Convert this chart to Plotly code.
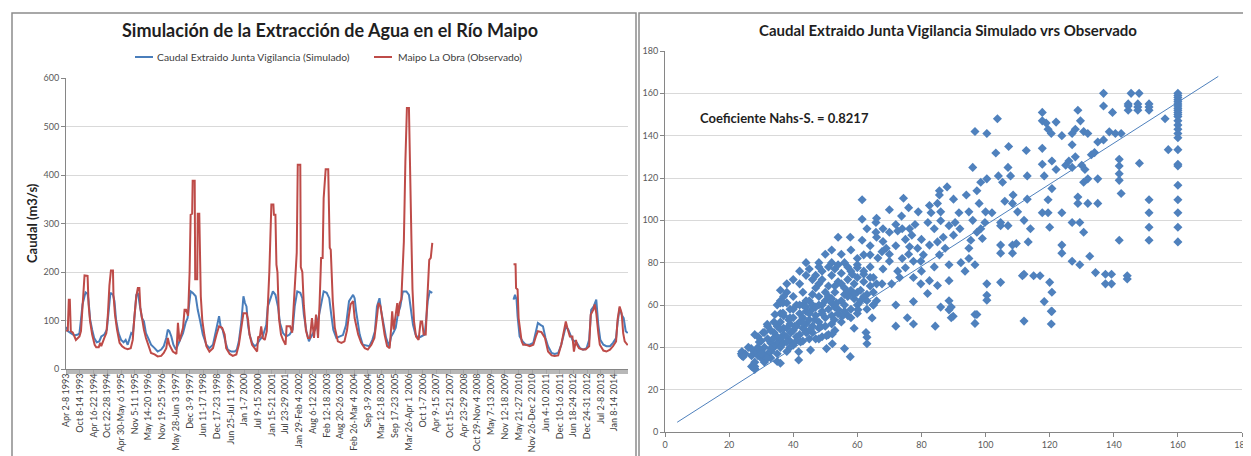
import plotly.graph_objects as go

W, H = 1251, 456

# ---------------- data: time series (weekly categories) ----------------
tick_labels = [
    "Apr 2-8 1993", "Oct 8-14 1993", "Apr 16-22 1994", "Oct 22-28 1994",
    "Apr 30-May 6 1995", "Nov 5-11 1995", "May 14-20 1996", "Nov 19-25 1996",
    "May 28-Jun 3 1997", "Dec 3-9 1997", "Jun 11-17 1998", "Dec 17-23 1998",
    "Jun 25-Jul 1 1999", "Jan 1-7 2000", "Jul 9-15 2000", "Jan 15-21 2001",
    "Jul 23-29 2001", "Jan 29-Feb 4 2002", "Aug 6-12 2002", "Feb 12-18 2003",
    "Aug 20-26 2003", "Feb 26-Mar 4 2004", "Sep 3-9 2004", "Mar 12-18 2005",
    "Sep 17-23 2005", "Mar 26-Apr 1 2006", "Oct 1-7 2006", "Apr 9-15 2007",
    "Oct 15-21 2007", "Apr 23-29 2008", "Oct 29-Nov 4 2008", "May 7-13 2009",
    "Nov 12-18 2009", "May 21-27 2010", "Nov 26-Dec 2 2010", "Jun 4-10 2011",
    "Dec 10-16 2011", "Jun 18-24 2012", "Dec 24-31 2012", "Jul 2-8 2013",
    "Jan 8-14 2014",
]
weeks_per_label = 27
n_weeks = 1107

sim_weeks = [0, 3, 9, 16, 23, 26, 29, 32, 38, 42, 44, 47, 51, 55, 60, 65, 69, 75, 80, 83,
             87, 92, 95, 98, 103, 108, 113, 117, 121, 128, 131, 134, 138, 141, 145, 149, 153,
             157, 163, 167, 174, 180, 187, 192, 197, 200, 203, 207, 211, 216, 220, 224, 230,
             235, 239, 245, 249, 255, 259, 264, 269, 276, 282, 289, 294, 301, 304, 308, 314,
             318, 325, 332, 336, 340, 345, 349, 352, 355, 358, 361, 366, 371, 375, 381, 387,
             394, 397, 402, 407, 412, 417, 421, 427, 433, 440, 446, 450, 455, 461, 465, 468,
             473, 478, 481, 486, 492, 498, 503, 507, 513, 518, 522, 526, 532, 538, 545, 551,
             557, 565, 568, 571, 578, 584, 591, 597, 603, 608, 612, 617, 620, 625, 630, 636,
             640, 644, 649, 653, 658, 663, 670, 675, 678, 683, 688, 693, 699, 706, 709, 712,
             716, 721,
             800,
             881, 884, 887, 889, 893, 899, 905, 913, 920, 925, 929, 934, 939, 944, 949, 956,
             962, 969, 975, 980, 984, 989, 993, 997, 1002, 1006, 1012, 1018, 1025, 1030, 1034,
             1039, 1044, 1048, 1052, 1058, 1064, 1071, 1077, 1083, 1086, 1090, 1094, 1098,
             1102, 1106]
sim_values = [87, 78, 74, 69, 71, 74, 102, 133, 158, 155, 140, 102, 81, 64, 55, 57, 67, 71, 81, 112,
              157, 153, 140, 102, 74, 60, 55, 60, 50, 74, 71, 102, 153, 157, 126, 105, 98,
              74, 60, 50, 43, 36, 40, 47, 64, 81, 78, 67, 50, 40, 50, 60, 74,
              95, 105, 160, 157, 150, 122, 98, 71, 50, 43, 50, 74, 109, 88, 81, 54,
              40, 36, 36, 40, 57, 98, 150, 136, 129, 91, 71, 54, 47, 50, 60, 67,
              91, 129, 146, 160, 153, 129, 95, 74, 67, 71, 81, 129, 160, 157, 146, 112,
              78, 57, 64, 74, 85, 112, 136, 160, 157, 146, 112, 81, 64, 67, 70, 90,
              140, 153, 146, 119, 71, 50, 48, 47, 60, 78, 129, 146, 122, 91, 64, 47,
              67, 74, 85, 112, 129, 160, 160, 153, 133, 91, 71, 64, 67, 71, 102, 140,
              160, 157,
              None,
              143, 153, 143, 109, 67, 57, 50, 50, 54, 81, 95, 91, 88, 64, 47, 33,
              31, 33, 50, 71, 88, 81, 71, 60, 57, 54, 43, 40, 43, 60, 122,
              129, 143, 91, 60, 50, 47, 47, 54, 64, 95, 126, 112, 105,
              78, 74]

obs_weeks = [0, 3, 5, 7, 9, 13, 19, 23, 26, 29, 32, 36, 42, 44, 47, 51, 56, 59, 64, 67, 69, 72,
             75, 79, 82, 85, 88, 92, 93, 96, 100, 105, 110, 115, 121, 127, 131, 134, 138, 141,
             144, 146, 149, 153, 157, 163, 167, 174, 180, 187, 192, 197, 200, 203, 210, 217,
             220, 223, 226, 230, 233, 236, 240, 243, 245, 248, 249, 253, 254, 258, 259, 262,
             265, 268, 272, 276, 282, 289, 296, 301, 307, 312, 315, 322, 328, 335, 340, 345,
             349, 355, 358, 361, 366, 371, 376, 378, 381, 384, 387, 391, 395, 397, 400, 404,
             408, 409, 412, 414, 416, 419, 423, 427, 432, 434, 441, 445, 448, 451, 454, 456,
             461, 462, 465, 468, 472, 476, 480, 484, 488, 492, 496, 499, 502, 505, 507, 511,
             516, 519, 521, 525, 529, 535, 542, 548, 553, 557, 560, 565, 568, 575, 581, 588,
             594, 601, 607, 611, 615, 619, 623, 627, 632, 637, 640, 642, 645, 649, 652, 654,
             657, 660, 663, 665, 668, 671, 675, 677, 680, 682, 685, 689, 694, 698, 701, 704,
             708, 711, 715, 718, 721,
             800,
             881, 885, 886, 889, 891, 893, 897, 900, 906, 913, 920, 925, 929, 936, 943, 949,
             956, 962, 969, 975, 980, 984, 987, 992, 997, 1000, 1004, 1006, 1010, 1017, 1023,
             1030, 1033, 1038, 1041, 1044, 1048, 1051, 1058, 1064, 1071, 1077, 1083, 1086,
             1090, 1094, 1097, 1100, 1106]
obs_values = [78, 80, 143, 143, 78, 75, 60, 64, 67, 78, 140, 193, 192, 133, 98, 71, 50, 45, 45, 54, 47, 54,
              64, 74, 112, 172, 203, 203, 153, 112, 81, 54, 47, 43, 41, 43, 60, 105, 150, 167,
              167, 126, 105, 81, 64, 43, 33, 30, 26, 27, 33, 43, 64, 50, 36, 31,
              95, 57, 71, 85, 122, 122, 110, 200, 318, 320, 388, 388, 185, 185, 320, 320,
              150, 100, 70, 47, 36, 43, 71, 88, 85, 71, 43, 31, 27, 30, 50, 85,
              115, 115, 102, 71, 50, 43, 36, 67, 64, 88, 64, 60, 78, 129, 200, 339,
              339, 318, 318, 215, 200, 105, 71, 60, 50, 88, 88, 75, 130, 180, 240, 421,
              421, 210, 200, 130, 80, 64, 64, 105, 64, 112, 64, 136, 229, 229, 352, 412,
              412, 250, 246, 140, 85, 57, 54, 57, 80, 112, 133, 140, 105, 71, 54, 43,
              40, 50, 64, 98, 136, 129, 100, 71, 47, 43, 85, 119, 81, 112, 136, 109,
              136, 143, 208, 263, 428, 538, 538, 394, 263, 164, 98, 67, 60, 98, 98, 71,
              71, 140, 225, 229, 260,
              None,
              216, 216, 167, 164, 105, 85, 57, 50, 50, 47, 50, 67, 78, 76, 64, 36,
              28, 27, 28, 50, 74, 98, 85, 67, 67, 36, 60, 50, 43, 40, 40,
              47, 112, 122, 133, 115, 74, 50, 38, 36, 40, 47, 57, 102,
              129, 115, 74, 57, 49]

# ---------------- data: scatter (observado, simulado) ----------------
scatter_points = [
    # upper band
    (96.7, 142), (100.4, 141), (103.7, 148), (117.7, 151), (117.7, 147), (118.9, 146), (119.5, 143),
    (120.5, 141), (122, 146.4), (123.8, 140), (127, 141), (128, 143), (128.8, 152), (129.6, 147),
    (130.6, 142), (131.9, 141), (136.8, 160), (136.8, 154), (139.6, 151), (140.5, 141), (142.3, 141),
    (145.4, 160), (147.9, 160), (144.5, 152), (144.5, 154), (144.5, 155), (147.5, 152), (147.5, 153.5),
    (147.5, 155), (151, 152), (151, 153.5), (151, 155), (156, 148),
    (160, 139), (160, 141), (160, 143), (160, 145), (160, 147), (160, 149), (160, 150), (160, 151),
    (160, 152), (160, 153), (160, 154), (160, 155), (160, 156), (160, 157), (160, 158), (160, 159),
    (160, 160), (157, 133.4), (160, 133.4), (160, 125.7), (160, 126.5), (160, 116.6), (160, 109.7),
    (160, 103.6), (160, 96.7), (160, 89.8),
    # middle right
    (96, 125), (103.2, 131.8), (107.2, 134.9), (112.7, 133), (107, 125), (104, 121), (107.8, 121),
    (105.3, 118), (98.5, 118), (97.3, 114), (100.4, 119.6), (113, 121), (113, 110), (108.6, 112),
    (108.4, 108), (117.7, 134), (117.7, 126.5), (118.3, 121), (120.7, 128), (120.7, 115),
    (117.7, 103.6), (119.5, 103.6), (119.5, 109.7), (120, 96.7), (123.8, 103.6), (127, 135.7),
    (127, 125), (128, 130), (128.8, 111), (128.8, 108), (130.6, 118), (131.9, 108), (131.9, 119.6),
    (135, 137), (135, 119.6), (135, 108), (136.8, 138), (138.6, 141.8), (129.4, 99), (127, 99),
    (130.6, 94.4), (123.8, 88.3), (123.8, 84.5), (127, 80.7), (129.4, 79), (132.5, 83), (134.3, 75.3),
    (137.4, 70), (139.3, 70), (137.4, 74.5), (139.3, 74.5), (144.2, 73.8), (144.2, 72.3),
    (141.7, 128.8), (141.7, 125.7), (141.7, 122), (141.7, 118.9), (142.3, 112.7), (141.7, 90.6),
    (148, 127), (151, 109.7), (151, 103.6), (151, 96.7), (151, 90.6), (133, 131), (134, 132),
    (130, 126), (131, 124), (125, 126), (126, 128), (122, 124),
    # middle
    (61.5, 109.7), (61.5, 100.5), (61.5, 90.6), (57.8, 92), (65.8, 99), (65.8, 94.4), (70, 94.4),
    (72.6, 95), (74.4, 110.4), (73.8, 102), (76.3, 96), (77, 93), (79, 104), (82.5, 107), (83, 103.6),
    (85.6, 114), (85.6, 112), (88, 115.8), (86, 99.8), (86.8, 92), (85, 108), (88.6, 97.5),
    (91.7, 103.6), (94.8, 104), (90.5, 99), (87.4, 86.8), (85.6, 83.7), (85, 89.8), (82.5, 88.3),
    (80.6, 83.7), (79.8, 80.7), (78.8, 86.8), (76.3, 87.5), (77.5, 80.7), (75, 77.6), (72.6, 76),
    (70, 80.7), (69, 86.8), (67.7, 85.2), (66.4, 82.2), (64, 83.7), (62, 83.7), (60, 77.6),
    (58.4, 74.5), (62, 74.5), (65, 73), (67.7, 70), (70.7, 70), (73.2, 73), (77.5, 73), (79.8, 70),
    (82.5, 71.5), (85, 69.2), (81.9, 65.4), (88.6, 71.5), (88.6, 79), (88.6, 62), (88.6, 57.7),
    (89.9, 54.7), (92.3, 80), (93.6, 76), (94.8, 86.8), (94.8, 82), (95.4, 90.6), (96.7, 79),
    (97.3, 94.4), (98.5, 96), (99, 91.4), (99.8, 99), (102, 103.6), (104.7, 99), (104.7, 97.5),
    (107, 97.5), (104.7, 88.3), (108.4, 88.3), (104.7, 84.5), (108.4, 84.5), (100.4, 70),
    (104.7, 70.7), (100.4, 64.6), (97.3, 55.5), (112, 74.5), (113.3, 89.8), (117, 73.8),
    (120, 70.7), (120.7, 57), (120.7, 66), (111.5, 73.8), (109.6, 89), (115, 73.8), (110, 104),
    (112, 100), (114, 96), (80, 91), (78, 98), (75, 91), (72, 88), (68, 90), (66, 92), (64, 88),
    (70, 84), (74, 82), (76, 84), (80, 76), (84, 78), (68, 77), (64, 78), (60, 82), (56, 80),
    (55, 84), (52, 86), (50, 84), (48, 80), (54, 92), (52, 80), (58, 86), (84, 96), (90, 93),
    (92, 96), (96, 100), (100, 104), (106, 109), (98, 108), (94, 112), (90, 110), (86, 104),
    (72, 98), (68, 96), (63, 96), (82, 99), (76, 106), (70, 105), (66, 101), (74, 96),
    # dense cluster
    (45, 62), (46, 65), (47, 68), (48, 70), (49, 72), (50, 66), (51, 69), (52, 74), (53, 77),
    (54, 71), (55, 75), (56, 68), (57, 72), (58, 76), (59, 70), (60, 73), (61, 67), (62, 71),
    (63, 65), (64, 69), (55, 62), (57, 64), (59, 63), (61, 62), (50, 62), (52, 63), (48, 64),
    (53, 66), (56, 65), (58, 67), (60, 66), (62, 64), (46, 72), (44, 62), (43, 66), (42, 70),
    (40, 64), (38, 66), (36, 67), (36, 62), (41, 60), (39, 58), (58, 58), (60, 60), (56, 60),
    (54, 58), (52, 61), (47, 74), (49, 76), (51, 78), (54, 79), (57, 78), (44, 74), (45, 77),
    (43, 60), (46, 60), (49, 60), (51, 64), (53, 69), (55, 70), (57, 66), (59, 65), (63, 62),
    (65, 66), (66, 70), (64, 73), (62, 76), (60, 79), (38, 70), (37, 64), (35, 60), (40, 72),
    (42, 76), (44, 80), (48, 78), (66, 62), (65, 60), (63, 58),
    (40, 48), (41, 50), (42, 52), (43, 49), (44, 51), (45, 53), (46, 50), (47, 55), (48, 52),
    (49, 57), (50, 54), (51, 58), (52, 55), (53, 59), (54, 56), (42, 46), (44, 47), (46, 47),
    (48, 49), (50, 50), (52, 51), (40, 54), (42, 56), (44, 57), (46, 58), (48, 60), (43, 54),
    (45, 56), (47, 59), (41, 45), (39, 51), (38, 49), (37, 46), (36, 44), (35, 42), (34, 40),
    (33, 38), (32, 37), (31, 40), (30, 43), (29, 45), (28, 38), (27, 36), (26, 40), (25, 37),
    (30, 35), (31, 33), (33, 35), (35, 37), (36, 40), (37, 42), (38, 45), (39, 43), (40, 41),
    (34, 47), (35, 50), (36, 52), (37, 55), (32, 44), (33, 48), (55, 52), (57, 55), (56, 57),
    (58, 54), (60, 56), (53, 48), (51, 46), (49, 45), (47, 44), (45, 44), (43, 43), (41, 43),
    (39, 40), (38, 38), (29, 40), (28, 33), (27, 31), (24, 36), (24, 38), (28, 30), (29, 36),
    (31, 47), (32, 50), (34, 52), (36, 56), (36, 61), (38, 61), (40, 58), (42, 60), (44, 59),
    (30, 38), (31, 36), (33, 42), (35, 45), (37, 49), (39, 54),
    # lower band
    (23.8, 37), (24.4, 35.6), (26.9, 39.4), (28, 31), (28, 46), (29.4, 42.5), (30.6, 47),
    (31.9, 50.9), (28, 29.6), (30, 37), (31.9, 34.8), (33, 39.4), (33.7, 44), (34.3, 55.5),
    (35, 33.3), (36, 32.5), (36, 48.6), (36.8, 56.2), (36.8, 61), (38, 42.5), (38.6, 53),
    (39.3, 47), (40.5, 50), (41.7, 37.9), (41.7, 34), (42.3, 42.5), (43, 51.6), (44.2, 47),
    (45.4, 38.7), (45.4, 48.6), (46.7, 53), (48, 44), (48.5, 50), (49, 56), (50.4, 39.4),
    (50.4, 45.5), (52.2, 46.3), (52.2, 41.7), (52.8, 53), (53.5, 61), (54, 56), (55.3, 54.7),
    (56, 39.4), (57.8, 35.6), (59, 49), (60.2, 57.7), (62.7, 47), (63, 44.8), (63, 41.7),
    (64.6, 53.9), (65, 60), (72, 60), (72, 50), (75.6, 54), (77.5, 51), (77.5, 61.6), (84.3, 50),
    (89.3, 54), (89.3, 59), (96.7, 55.5), (96.7, 51.3), (100.4, 62.3), (112, 52.4), (120.5, 57),
    (120.5, 51), (118.3, 61.6), (86, 59),
]
scatter_obs = [p[0] for p in scatter_points]
scatter_sim = [p[1] for p in scatter_points]

trend_x = [3.8, 172.6]
trend_y = [4.6, 168.0]
nash_text = "Coeficiente Nahs-S. = 0.8217"

# ---------------- layout helpers (pixel -> paper) ----------------
def px(x):
    return x / W


def py(y):
    return 1 - y / H


FONT = "Lato, 'Open Sans', sans-serif"
BLUE = "#4A7EBB"
RED = "#BE4B48"
GRID = "#D9D9D9"
AXIS = "#868686"
TICKC = "#595959"

fig = go.Figure()

fig.add_trace(go.Scatter(x=sim_weeks, y=sim_values, mode="lines", connectgaps=False,
                         line=dict(color=BLUE, width=2), xaxis="x", yaxis="y",
                         name="Caudal Extraido Junta Vigilancia (Simulado)"))
fig.add_trace(go.Scatter(x=obs_weeks, y=obs_values, mode="lines", connectgaps=False,
                         line=dict(color=RED, width=2), xaxis="x", yaxis="y",
                         name="Maipo La Obra (Observado)"))
fig.add_trace(go.Scatter(x=scatter_obs, y=scatter_sim, mode="markers", xaxis="x2", yaxis="y2",
                         marker=dict(symbol="diamond", size=7, color="#4F81BD"),
                         name="Simulado vrs Observado"))
fig.add_trace(go.Scatter(x=trend_x, y=trend_y, mode="lines", xaxis="x2", yaxis="y2",
                         line=dict(color="#4F81BD", width=1), name="Tendencia"))

tickvals = [i * weeks_per_label for i in range(len(tick_labels))]

fig.update_layout(
    width=W, height=H, autosize=False,
    margin=dict(l=0, r=0, t=0, b=0, autoexpand=False),
    paper_bgcolor="white", plot_bgcolor="white",
    showlegend=False,
    font=dict(family=FONT, color="#404040"),
    xaxis=dict(domain=[px(58), px(620)], anchor="y", range=[-0.5, n_weeks - 0.5],
               automargin=False,
               tickvals=tickvals, ticktext=tick_labels, tickangle=-90,
               tickfont=dict(size=9, color="#404040", family=FONT),
               ticklabelstandoff=-4,
               showgrid=False, zeroline=False, showline=True, linecolor=AXIS, linewidth=1,
               ticks="outside", ticklen=4, tickcolor="#A6A6A6",
               minor=dict(dtick=1, tick0=0, ticks="outside", ticklen=4,
                          tickcolor="#B8B8B8", tickwidth=1, showgrid=False)),
    yaxis=dict(domain=[py(361), py(70)], anchor="x", range=[0, 600], dtick=100,
               automargin=False,
               tickfont=dict(size=9, color=TICKC, family=FONT),
               showgrid=True, gridcolor=GRID, gridwidth=1, zeroline=False,
               showline=True, linecolor=AXIS, linewidth=1, ticks="outside", ticklen=4,
               tickcolor=AXIS),
    xaxis2=dict(domain=[px(657), px(1234)], anchor="y2", range=[0, 180], dtick=20,
                automargin=False,
                tickfont=dict(size=9, color=TICKC, family=FONT),
                showgrid=False, zeroline=False, showline=True, linecolor=AXIS, linewidth=1,
                ticks="outside", ticklen=4, tickcolor=AXIS),
    yaxis2=dict(domain=[py(424), py(43)], anchor="x2", range=[0, 180], dtick=20,
                automargin=False,
                tickfont=dict(size=9, color=TICKC, family=FONT),
                showgrid=True, gridcolor=GRID, gridwidth=1, zeroline=False,
                showline=True, linecolor=AXIS, linewidth=1, ticks="outside", ticklen=4,
                tickcolor=AXIS),
)

shapes = [
    dict(type="rect", xref="paper", yref="paper", x0=px(4), x1=px(628), y0=py(452), y1=py(5),
         line=dict(color="#8C8C8C", width=1.5), fillcolor="rgba(0,0,0,0)", layer="below"),
    dict(type="rect", xref="paper", yref="paper", x0=px(631), x1=px(1248), y0=py(452), y1=py(5),
         line=dict(color="#8C8C8C", width=1.5), fillcolor="rgba(0,0,0,0)", layer="below"),
    dict(type="line", xref="paper", yref="paper", x0=px(127), x1=px(145), y0=py(49), y1=py(49),
         line=dict(color=BLUE, width=2)),
    dict(type="line", xref="paper", yref="paper", x0=px(366), x1=px(384), y0=py(49), y1=py(49),
         line=dict(color=RED, width=2)),
]
fig.update_layout(shapes=shapes)

annotations = [
    dict(text="<b>Simulación de la Extracción de Agua en el Río Maipo</b>", x=px(322), y=py(22),
         xref="paper", yref="paper", showarrow=False, xanchor="center", yanchor="middle",
         font=dict(size=18, color="#1F1F1F", family=FONT)),
    dict(text="<b>Caudal Extraido Junta Vigilancia Simulado vrs Observado</b>", x=px(940),
         y=py(22), xref="paper", yref="paper", showarrow=False, xanchor="center",
         yanchor="middle", font=dict(size=15, color="#1F1F1F", family=FONT)),
    dict(text="Caudal Extraido Junta Vigilancia (Simulado)", x=px(147), y=py(49), xref="paper",
         yref="paper", showarrow=False, xanchor="left", yanchor="middle",
         font=dict(size=10.3, color="#404040", family=FONT)),
    dict(text="Maipo La Obra (Observado)", x=px(388), y=py(49), xref="paper", yref="paper",
         showarrow=False, xanchor="left", yanchor="middle",
         font=dict(size=10.3, color="#404040", family=FONT)),
    dict(text="<b>Caudal (m3/s)</b>", x=px(24), y=py(215), xref="paper", yref="paper",
         showarrow=False, textangle=-90, xanchor="center", yanchor="middle",
         font=dict(size=13, color="#1F1F1F", family=FONT)),
    dict(text="<b>" + nash_text + "</b>", x=px(690), y=py(110), xref="paper", yref="paper",
         showarrow=False, xanchor="left", yanchor="middle",
         font=dict(size=13, color="#1F1F1F", family=FONT)),
]
fig.update_layout(annotations=annotations)

fig.write_html("out.html")
